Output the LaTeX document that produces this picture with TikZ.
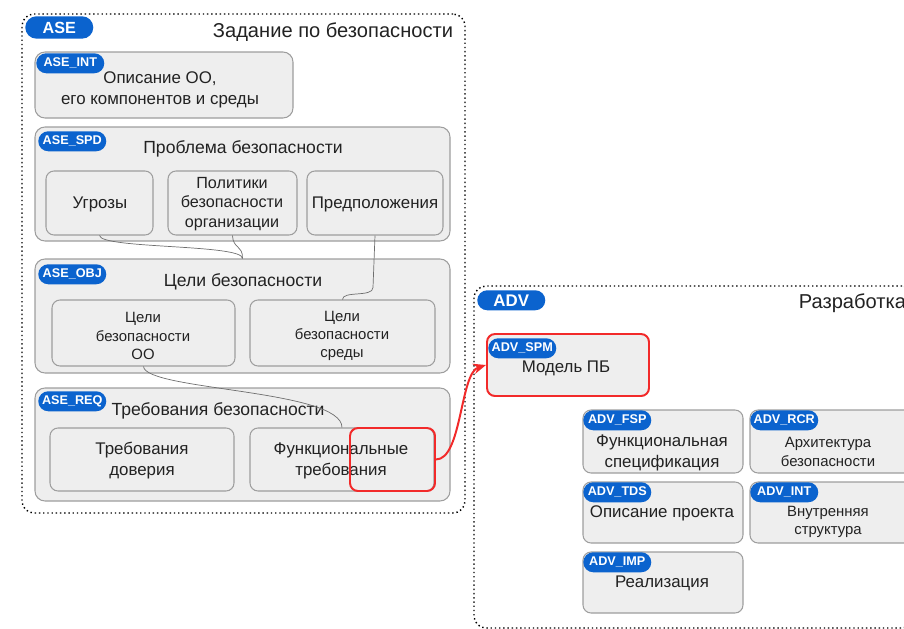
\documentclass[tikz,border=0pt]{standalone}
\usepackage{fontspec}
\setmainfont{Liberation Sans}
\usetikzlibrary{arrows.meta,fit}

\definecolor{tagblue}{HTML}{0B63CE}
\definecolor{boxfill}{HTML}{EEEEEE}
\definecolor{boxline}{HTML}{9E9E9E}
\definecolor{linkgray}{HTML}{6E6E6E}
\definecolor{hlred}{HTML}{F22A2A}
\definecolor{ink}{HTML}{222222}

\begin{document}
\begin{tikzpicture}[x=0.25mm,y=-0.25mm,
   every node/.style={text=ink},
   area/.style={draw=black,dotted,line width=1pt,rounded corners=3mm,inner sep=0pt},
   grp/.style={draw=boxline,fill=boxfill,line width=0.75pt,rounded corners=2.5mm,inner sep=0pt},
   box/.style={grp,rounded corners=2mm},
   tag/.style={fill=tagblue,text=white,rounded corners=2.5mm,inner sep=0pt,
     minimum width=17mm,minimum height=5mm,anchor=north west,
     font=\bfseries\fontsize{9}{9}\selectfont},
   bigtag/.style={tag,minimum height=5.6mm,rounded corners=2.8mm,
     font=\bfseries\fontsize{11.5}{12}\selectfont},
   title/.style={font=\fontsize{14.3}{17}\selectfont},
   gtitle/.style={font=\fontsize{12.5}{15}\selectfont},
   txt/.style={align=center,font=\fontsize{12}{15}\selectfont},
   mid/.style={align=center,font=\fontsize{11.5}{14}\selectfont},
   small/.style={align=center,font=\fontsize{10.6}{13}\selectfont},
   link/.style={draw=linkgray,line width=0.5pt},
   hl/.style={draw=hlred,line width=1.4pt,rounded corners=2mm,inner sep=0pt}]
  \useasboundingbox (0,0) rectangle (904,629);
  \clip (0,0) rectangle (904,629);
  % security target
  \node[area,fit={(22,14) (465,513)}] (ase) {};
  \node[bigtag] (ase-tag) at (25,16) {ASE};
  \node[title,anchor=east] (ase-title) at (458,32) {Задание по безопасности};
  % ASE_INT
  \node[grp,fit={(35,52) (293,118)}] (int) {};
  \node[tag] (int-tag) at (36,53) {ASE\_INT};
  \node[txt] (int-txt) at (160,90) {Описание ОО,\\его компонентов и среды};
  % ASE_SPD
  \node[grp,fit={(35,127) (450,241)}] (spd) {};
  \node[tag] (spd-tag) at (38,131) {ASE\_SPD};
  \node[gtitle] (spd-title) at (243,149) {Проблема безопасности};
  \node[box,fit={(46,171) (153,235)}] (thr) {};
  \node[txt] (thr-txt) at (100,204) {Угрозы};
  \node[box,fit={(168,171) (297,235)}] (osp) {};
  \node[mid] (osp-txt) at (232,204) {Политики\\безопасности\\организации};
  \node[box,fit={(307,171) (443,235)}] (asm) {};
  \node[txt] (asm-txt) at (375,204) {Предположения};
  % ASE_OBJ
  \node[grp,fit={(35,259) (450,373)}] (obj) {};
  \node[tag] (obj-tag) at (38,264) {ASE\_OBJ};
  \node[gtitle] (obj-title) at (243,282) {Цели безопасности};
  \node[box,fit={(52,300) (235,366)}] (toeobj) {};
  \node[small] (toeobj-txt) at (143,336) {Цели\\безопасности\\ОО};
  \node[box,fit={(250,300) (435,366)}] (envobj) {};
  \node[small] (envobj-txt) at (342,336) {Цели\\безопасности\\среды};
  % ASE_REQ
  \node[grp,fit={(35,388) (450,501)}] (req) {};
  \node[tag] (req-tag) at (38,391) {ASE\_REQ};
  \node[gtitle] (req-title) at (218,411) {Требования безопасности};
  \node[box,fit={(50,428) (234,491)}] (sar) {};
  \node[txt] (sar-txt) at (142,461) {Требования\\доверия};
  \node[box,fit={(250,428) (434,491)}] (sfr) {};
  \node[txt] (sfr-txt) at (341,461) {Функциональные\\требования};
  \node[hl,fit={(350,428) (435,491)}] (sfr-hl) {};
  % links inside the ST
  \draw[link] (thr.south) .. controls (101,249) and (243,244) .. (obj.north);
  \draw[link] (osp.south) .. controls (233,249) and (243,245) .. (obj.north);
  \draw[link] (asm.south) -- +(-2,52) .. controls +(0,10) and +(0,-9) .. (envobj.north);
  \draw[link] (toeobj.south) .. controls +(2,24) and +(0,-38) .. (sfr.north);
  % development
  \node[area,fit={(474,286) (914,628)}] (adv) {};
  \node[bigtag,minimum height=5mm,rounded corners=2.5mm,font=\bfseries\fontsize{12}{12}\selectfont]
    (adv-tag) at (477,290) {ADV};
  \node[title,anchor=east] (adv-title) at (911,303) {Разработка};
  \node[grp,hl,fill=boxfill,fit={(487,334) (649,396)}] (spm) {};
  \node[tag] (spm-tag) at (488,338) {ADV\_SPM};
  \node[txt] (spm-txt) at (566,368) {Модель ПБ};
  \node[box,fit={(583,410) (743,473)}] (fsp) {};
  \node[tag] (fsp-tag) at (583,410) {ADV\_FSP};
  \node[txt] (fsp-txt) at (662,453) {Функциональная\\спецификация};
  \node[box,fit={(750,410) (912,473)}] (rcr) {};
  \node[tag] (rcr-tag) at (750,410) {ADV\_RCR};
  \node[small] (rcr-txt) at (828,452) {Архитектура\\безопасности};
  \node[box,fit={(583,482) (743,543)}] (tds) {};
  \node[tag] (tds-tag) at (583,482) {ADV\_TDS};
  \node[txt] (tds-txt) at (662,513) {Описание проекта};
  \node[box,fit={(750,482) (912,543)}] (advint) {};
  \node[tag] (advint-tag) at (750,482) {ADV\_INT};
  \node[small] (advint-txt) at (828,522) {Внутренняя\\структура};
  \node[box,fit={(583,552) (743,613)}] (imp) {};
  \node[tag] (imp-tag) at (583,552) {ADV\_IMP};
  \node[txt] (imp-txt) at (662,583) {Реализация};
  % SFR -> security policy model
  \draw[draw=hlred,line width=1.4pt,-{Stealth[length=3.2mm,width=2.6mm]}]
    (sfr-hl.east) .. controls +(26,0) and +(-26,8) .. (spm.west);
\end{tikzpicture}
\end{document}
